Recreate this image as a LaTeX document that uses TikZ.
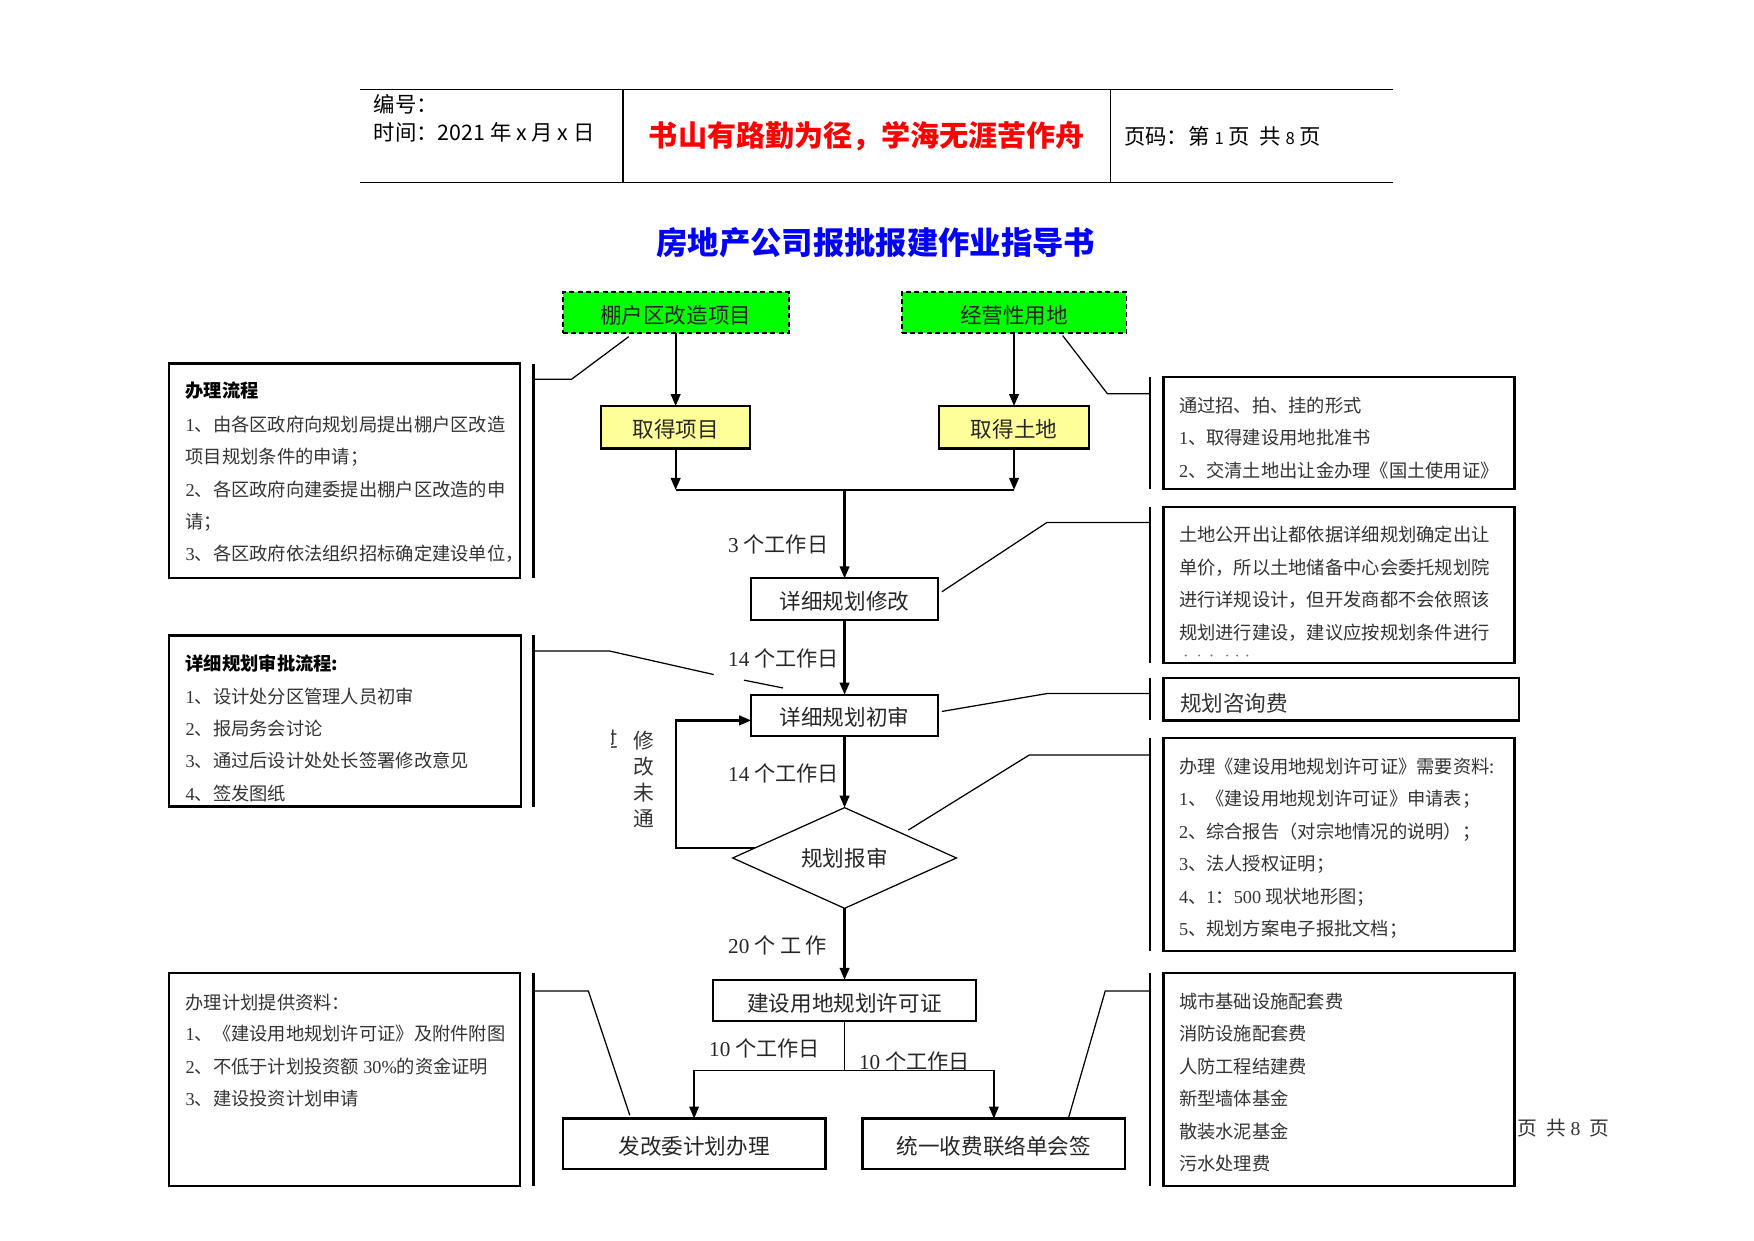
\documentclass[tikz,border=0pt]{standalone}
\usepackage{fontspec}
\setmainfont{Noto Sans CJK SC}
\newfontfamily\ser{Liberation Serif}
\usetikzlibrary{arrows.meta,shapes.geometric,calc}
\newlength\U \setlength\U{0.0189413cm}
\newcommand\nm[1]{{\ser #1}}
\definecolor{boxgreen}{RGB}{0,255,0}
\definecolor{boxyellow}{RGB}{255,255,153}
\definecolor{mottored}{RGB}{255,0,0}
\definecolor{titleblue}{RGB}{0,0,255}
\newcommand\ptlines[4]{\foreach \t [count=\i] in {#4} {\node[ptext] (#1\i) at (#2,{#3+29*(\i-1)}) {\t};}}
\begin{document}
\begin{tikzpicture}[x=0.0189413cm,y=-0.0189413cm,
  every node/.style={inner sep=0pt, outer sep=0pt, text=black!85},
  lowtext/.style={text height=1.1em, text depth=0.08em},
  flowbox/.style={draw=black, line width=1.1pt, fill=white, minimum height=37\U, font=\fontsize{10.4pt}{12pt}\selectfont, lowtext},
  greenbox/.style={flowbox, fill=boxgreen, dash pattern=on 2.4pt off 1.6pt, line width=0.9pt},
  yellowbox/.style={flowbox, fill=boxyellow},
  panel/.style={draw=black, line width=1.1pt, fill=white, anchor=north west},
  ptext/.style={anchor=west, font=\fontsize{8.8pt}{10pt}\selectfont, text=black!80, lowtext},
  phead/.style={ptext, font=\fontsize{8.8pt}{10pt}\selectfont\bfseries, text=black},
  bracket/.style={line width=1.2pt},
  callout/.style={line width=0.6pt},
  flow/.style={line width=1.1pt, -{Triangle[length=5.8pt,width=4.6pt]}},
  thinflow/.style={line width=0.8pt, -{Triangle[length=5.8pt,width=4.6pt]}},
  lbl/.style={anchor=west, font=\fontsize{10.2pt}{12pt}\selectfont, text=black!85},
  hdr/.style={anchor=west, font=\fontsize{10.3pt}{12pt}\selectfont, text=black},
]
\fill[white] (0,0) rectangle (1568,1109.4);
\useasboundingbox (0,0) rectangle (1568,1109.4);

% ---------- header ----------
\draw[line width=0.6pt] (322,80) -- (1245,80);
\draw[line width=0.6pt] (322,163) -- (1245,163);
\draw[line width=0.6pt] (557,80) -- (557,163);
\draw[line width=0.6pt] (993,80) -- (993,163);
\node[hdr] (hno) at (334,93) {编号：};
\node[hdr] (htime) at (334,118) {时间：2021 年 x 月 x 日};
\node[font=\fontsize{14pt}{16pt}\selectfont\bfseries, text=mottored] (motto) at (775,122) {书山有路勤为径，学海无涯苦作舟};
\node[hdr] (hpage) at (1005,122) {页码：第 {\fontsize{8pt}{10pt}\selectfont 1} 页 \ 共 {\fontsize{8pt}{10pt}\selectfont 8} 页};

% ---------- title ----------
\node[font=\fontsize{15.1pt}{17pt}\selectfont\bfseries, text=titleblue] (title) at (783,217) {房地产公司报批报建作业指导书};

% ---------- flow nodes ----------
\node[greenbox, minimum width=202\U] (g1) at (604,279.5) {棚户区改造项目};
\node[greenbox, minimum width=201\U] (g2) at (906.5,279.5) {经营性用地};
\node[yellowbox, minimum width=133\U, minimum height=38\U] (y1) at (604,382) {取得项目};
\node[yellowbox, minimum width=134\U, minimum height=38\U] (y2) at (906.5,382) {取得土地};
\node[flowbox, minimum width=167\U] (b1) at (755,535.5) {详细规划修改};
\node[flowbox, minimum width=167\U] (b2) at (755,639.5) {详细规划初审};
\node[diamond, aspect=2.2, draw=black, line width=0.6pt, fill=white, minimum width=200\U, minimum height=90\U, font=\fontsize{10.4pt}{12pt}\selectfont] (d) at (755,767) {规划报审};
\node[flowbox, minimum width=235\U] (b3) at (755,894.5) {建设用地规划许可证};
\node[flowbox, minimum width=235\U, minimum height=45\U] (b4) at (620.5,1022.5) {发改委计划办理};
\node[flowbox, minimum width=235\U, minimum height=45\U] (b5) at (888.5,1022.5) {统一收费联络单会签};

% ---------- flow connectors ----------
\coordinate (jm) at (755,438);
\draw[flow] (g1.south) -- (y1.north);
\draw[flow] (g2.south) -- (y2.north);
\draw[flow] (y1.south) -- (y1.south |- jm);
\draw[flow] (y2.south) -- (y2.south |- jm);
\draw[line width=1.1pt] (y1.south |- jm) -- (y2.south |- jm);
\draw[flow] (jm) -- (b1.north);
\draw[flow] (b1.south) -- (b2.north);
\draw[flow] (b2.south) -- (d.north);
\draw[flow] (d.south) -- (b3.north);
\coordinate (j3) at (755,957);
\draw[thinflow] (b3.south) -- (j3) -| (b4.north);
\draw[thinflow] (j3) -| (b5.north);
% loop back
\coordinate (lp) at ($(d.west)!0.2!(d.north)$);
\coordinate (lx) at (604,0);
\coordinate (b2in) at ([yshift=-4.5\U]b2.west);
\draw[flow] (lp) -- (lp -| lx) -- (lx |- b2in) -- (b2in);

% ---------- flow labels ----------
\node[lbl] (t1) at (651,487) {\nm{3} 个工作日};
\node[lbl] (t2) at (651,589) {\nm{14} 个工作日};
\node[lbl] (t3) at (651,691) {\nm{14} 个工作日};
\node[lbl] (t4) at (651,845) {\nm{20} 个 工 作};
\node[lbl] (t5) at (634,937) {\nm{10} 个工作日};
\node[lbl] (t6) at (768,949) {\nm{10} 个工作日};
\node[align=center, font=\fontsize{10pt}{12.6pt}\selectfont, text=black!80] (rev) at (576,697) {修\\改\\未\\通};
\begin{scope}
  \clip (547,650) rectangle (557,673);
  \node[font=\fontsize{10pt}{12pt}\selectfont, text=black!80] (revx) at (543,661) {过};
\end{scope}

% ---------- left panels ----------
\node[panel, minimum width=314\U, minimum height=192\U] (pl1) at (151,325) {};
\node[phead] (pl1h) at (166,346) {办理流程};
\ptlines{pl1t}{166}{376}{{\nm{1}、由各区政府向规划局提出棚户区改造},{项目规划条件的申请；},{\nm{2}、各区政府向建委提出棚户区改造的申},{请；},{\nm{3}、各区政府依法组织招标确定建设单位，}}
\draw[bracket] ([xshift=12\U]pl1.north east) -- ([xshift=12\U]pl1.south east);
\coordinate (c1a) at (477,339); \coordinate (c1b) at (511,339); \coordinate (c1e) at (562,301);
\draw[callout] (c1a) -- (c1b) -- (c1e);

\node[panel, minimum width=315\U, minimum height=153\U] (pl2) at (151,568) {};
\node[phead] (pl2h) at (166,590) {详细规划审批流程:};
\ptlines{pl2t}{166}{619}{{\nm{1}、设计处分区管理人员初审},{\nm{2}、报局务会讨论},{\nm{3}、通过后设计处处长签署修改意见},{\nm{4}、签发图纸}}
\draw[bracket] ([xshift=11\U]pl2.north east) -- ([xshift=11\U]pl2.south east);
\coordinate (c2a) at (477,582); \coordinate (c2b) at (545,582); \coordinate (c2c) at (638,603);
\coordinate (c2d) at (665,608); \coordinate (c2e) at (700,615);
\draw[callout] (c2a) -- (c2b) -- (c2c);
\draw[callout] (c2d) -- (c2e);

\node[panel, minimum width=314\U, minimum height=190\U] (pl3) at (151,870) {};
\node[ptext] (pl3h) at (166,893) {办理计划提供资料：};
\ptlines{pl3t}{166}{921}{{\nm{1}、《建设用地规划许可证》及附件附图},{\nm{2}、不低于计划投资额 \nm{30\%}的资金证明},{\nm{3}、建设投资计划申请}}
\draw[bracket] ([xshift=12\U]pl3.north east) -- ([xshift=12\U]pl3.south east);
\coordinate (c3a) at (477,886); \coordinate (c3b) at (526,886); \coordinate (c3e) at (563,997);
\draw[callout] (c3a) -- (c3b) -- (c3e);

% ---------- right panels ----------
\node[ptext, font=\fontsize{9.5pt}{11pt}\selectfont] (pg) at (1357,1006) {页 \ 共 \nm{8} \ 页};

\node[panel, minimum width=314\U, minimum height=100\U] (pr1) at (1040,337) {};
\ptlines{pr1t}{1054}{359}{{通过招、拍、挂的形式},{\nm{1}、取得建设用地批准书},{\nm{2}、交清土地出让金办理《国土使用证》}}
\draw[bracket] ([xshift=-12\U]pr1.north west) -- ([xshift=-12\U]pr1.south west);
\coordinate (r1a) at (1028,352); \coordinate (r1b) at (990,352); \coordinate (r1e) at (950,300);
\draw[callout] (r1a) -- (r1b) -- (r1e);

\node[panel, minimum width=314\U, minimum height=140\U] (pr2) at (1040,453) {};
\ptlines{pr2t}{1054}{475}{{土地公开出让都依据详细规划确定出让},{单价，所以土地储备中心会委托规划院},{进行详规设计，但开发商都不会依照该},{规划进行建设，建议应按规划条件进行}}
\foreach \x [count=\k] in {1060,1072,1083,1097,1106,1115} {\fill[black!55] (\x,586) circle (0.5pt) coordinate (dot\k);}
\draw[bracket] ([xshift=-12\U]pr2.north west) -- ([xshift=-12\U]pr2.south west);
\coordinate (r2a) at (1028,467); \coordinate (r2b) at (936,467); \coordinate (r2e) at (842,529);
\draw[callout] (r2a) -- (r2b) -- (r2e);

\node[panel, minimum width=318\U, minimum height=38\U] (pr3) at (1040,606) {};
\node[ptext, font=\fontsize{10.4pt}{12pt}\selectfont] (pr3t) at (1055,627) {规划咨询费};
\draw[bracket] ([xshift=-12\U]pr3.north west) -- ([xshift=-12\U]pr3.south west);
\coordinate (r3a) at (1028,620); \coordinate (r3b) at (936,620); \coordinate (r3e) at (842,636);
\draw[callout] (r3a) -- (r3b) -- (r3e);

\node[panel, minimum width=314\U, minimum height=190\U] (pr4) at (1040,660) {};
\ptlines{pr4t}{1054}{682}{{办理《建设用地规划许可证》需要资料:},{\nm{1}、《建设用地规划许可证》申请表；},{\nm{2}、综合报告（对宗地情况的说明）；},{\nm{3}、法人授权证明；},{\nm{4}、\nm{1}：\nm{500} 现状地形图；},{\nm{5}、规划方案电子报批文档；}}
\draw[bracket] ([xshift=-12\U]pr4.north west) -- ([xshift=-12\U]pr4.south west);
\coordinate (r4a) at (1028,675); \coordinate (r4b) at (920,675); \coordinate (r4e) at (812,742);
\draw[callout] (r4a) -- (r4b) -- (r4e);

\node[panel, minimum width=314\U, minimum height=190\U] (pr5) at (1040,870) {};
\ptlines{pr5t}{1054}{892}{{城市基础设施配套费},{消防设施配套费},{人防工程结建费},{新型墙体基金},{散装水泥基金},{污水处理费}}
\draw[bracket] ([xshift=-12\U]pr5.north west) -- ([xshift=-12\U]pr5.south west);
\coordinate (r5a) at (1028,886); \coordinate (r5b) at (988,886); \coordinate (r5e) at (955,1000);
\draw[callout] (r5a) -- (r5b) -- (r5e);
\end{tikzpicture}
\end{document}
